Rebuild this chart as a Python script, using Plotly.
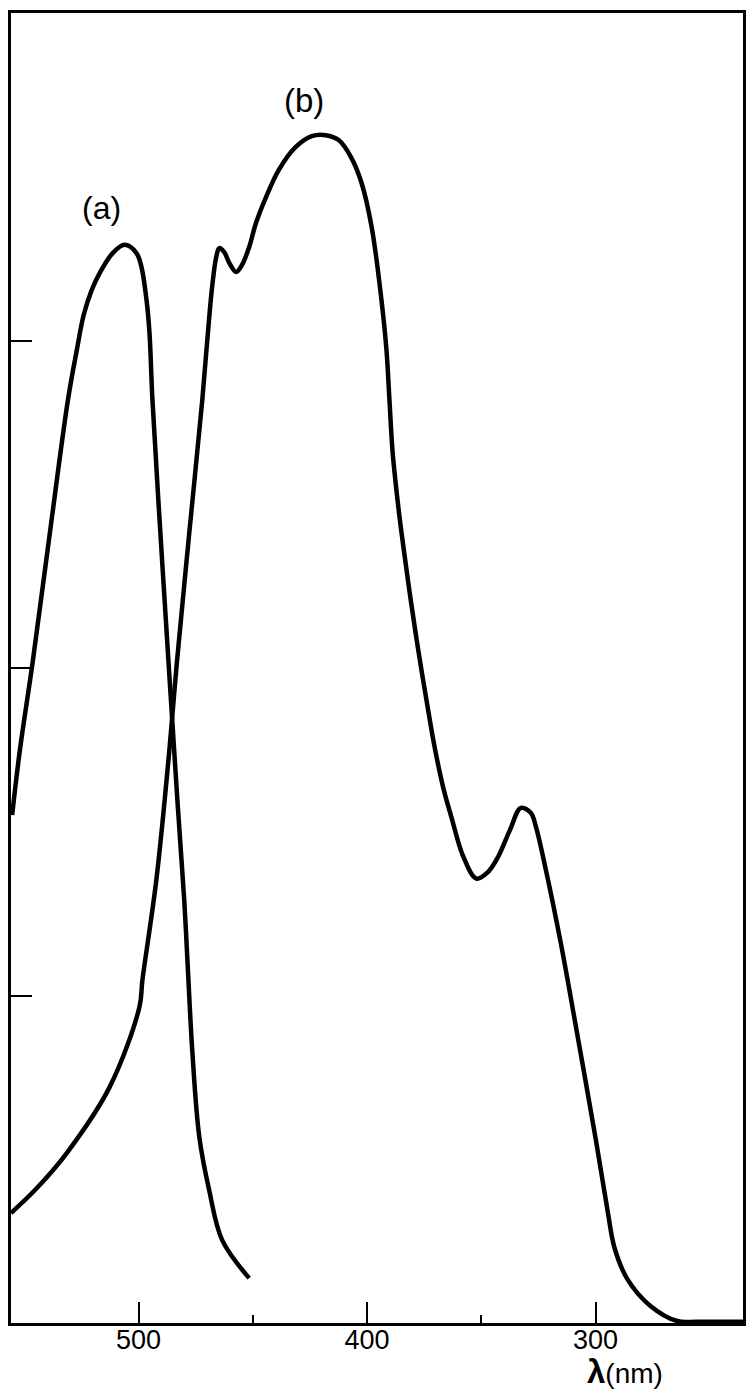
import plotly.graph_objects as go

# Curve (a): wavelength (nm) and absorbance
wl_a = [555.3, 551.9, 546.2, 538.8, 530.9, 527.0, 524.0, 520.5, 517.0, 511.3, 506.1, 500.9,
        498.7, 496.5, 495.2, 493.9, 489.5, 486.1, 483.0, 480.0, 478.6, 476.5, 473.4, 469.1,
        463.4, 451.6]
abs_a = [1.551, 1.750, 2.024, 2.412, 2.818, 2.971, 3.078, 3.154, 3.206, 3.267, 3.292, 3.267,
         3.224, 3.124, 3.023, 2.818, 2.308, 1.933, 1.597, 1.292, 1.108, 0.834, 0.568, 0.406,
         0.253, 0.137]

# Curve (b): wavelength (nm) and absorbance
wl_b = [555.8, 545.3, 531.4, 512.6, 499.6, 498.3, 492.2, 486.5, 483.4, 477.8, 472.1, 469.9,
        467.8, 466.0, 464.7, 462.5, 460.3, 457.3, 454.7, 451.6, 448.6, 444.2, 438.6, 431.2,
        424.2, 418.1, 412.4, 406.8, 402.4, 398.0, 393.7, 391.5, 390.2, 388.9, 387.5, 385.8,
        383.9, 380.9, 377.6, 374.0, 370.2, 366.4, 363.1, 358.0, 352.2, 347.1, 342.7, 337.5,
        332.7, 328.3, 326.1, 322.2, 315.3, 307.8, 300.4, 294.8, 291.7, 286.1, 276.0, 264.3,
        255.6, 235.5]
abs_b = [0.336, 0.406, 0.519, 0.721, 0.965, 1.047, 1.353, 1.750, 2.003, 2.412, 2.818, 3.002,
         3.163, 3.255, 3.282, 3.270, 3.237, 3.209, 3.231, 3.285, 3.359, 3.438, 3.521, 3.591,
         3.624, 3.627, 3.612, 3.557, 3.481, 3.347, 3.124, 2.971, 2.818, 2.666, 2.565, 2.461,
         2.360, 2.208, 2.055, 1.902, 1.750, 1.627, 1.545, 1.426, 1.357, 1.377, 1.423, 1.505,
         1.573, 1.557, 1.515, 1.398, 1.163, 0.873, 0.580, 0.345, 0.229, 0.134, 0.052, 0.006,
         0.004, 0.004]

x_major = [500, 400, 300]
x_major_text = ["500", "400", "300"]
x_minor = [450, 350]
y_ticks = [1, 2, 3]

FONT = "Liberation Sans, Arial, sans-serif"

fig = go.Figure()
for wl, ab in ((wl_a, abs_a), (wl_b, abs_b)):
    fig.add_trace(go.Scatter(x=wl, y=ab, mode="lines",
                             line=dict(color="black", width=4.5, shape="spline", smoothing=1.0),
                             showlegend=False, hoverinfo="skip"))

fig.update_layout(
    width=750, height=1389,
    margin=dict(l=11, r=4, t=13, b=66),
    paper_bgcolor="white", plot_bgcolor="white",
    font=dict(family=FONT, color="black"),
    xaxis=dict(range=[555.8, 235.5], showgrid=False, zeroline=False,
               showline=True, linecolor="black", linewidth=3, mirror=True,
               ticks="inside", ticklen=21, tickwidth=2, tickcolor="black",
               tickvals=x_major, ticktext=x_major_text, ticklabelstandoff=-9,
               tickfont=dict(size=27, family=FONT, color="black"),
               minor=dict(tickvals=x_minor, ticks="inside", ticklen=8, tickwidth=2,
                          tickcolor="black", showgrid=False)),
    yaxis=dict(range=[0, 4], showgrid=False, zeroline=False,
               showline=True, linecolor="black", linewidth=3, mirror=True,
               ticks="inside", ticklen=21, tickwidth=2, tickcolor="black",
               tickvals=y_ticks, showticklabels=False),
    annotations=[
        dict(x=516.1, y=3.405, xref="x", yref="y", text="(a)", showarrow=False,
             font=dict(size=32, family=FONT, color="black")),
        dict(x=427.7, y=3.734, xref="x", yref="y", text="(b)", showarrow=False,
             font=dict(size=33, family=FONT, color="black")),
        dict(x=287.0, y=-0.037, xref="x", yref="paper", yanchor="middle", xanchor="center",
             text="<span style='font-size:33px'><b>λ</b></span>(nm)", showarrow=False,
             font=dict(size=28, family=FONT, color="black")),
    ],
)

fig.write_html("out.html", config={"displayModeBar": False},
               post_script="document.body.style.margin='0';document.body.style.overflow='hidden';")
